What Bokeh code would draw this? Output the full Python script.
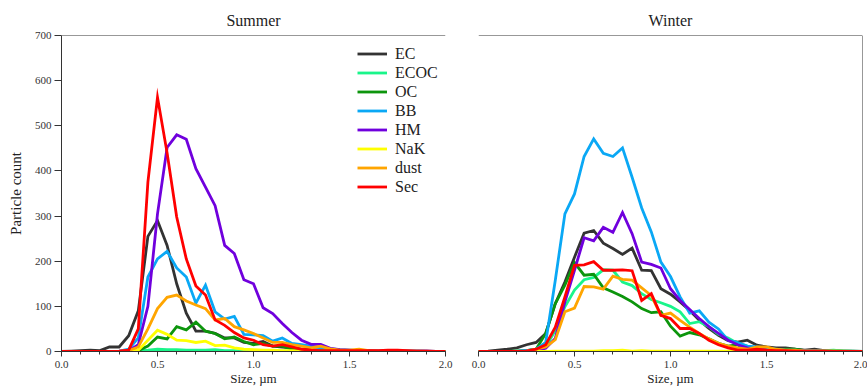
from bokeh.plotting import figure
from bokeh.layouts import row
from bokeh.models import (Legend, LegendItem, Span, SingleIntervalTicker,
                          PrintfTickFormatter, Range1d)
from bokeh.embed import file_html
from bokeh.resources import INLINE

# Particle size bins (µm)
sizes = [0.00, 0.05, 0.10, 0.15, 0.20, 0.25, 0.30, 0.35, 0.40, 0.45,
         0.50, 0.55, 0.60, 0.65, 0.70, 0.75, 0.80, 0.85, 0.90, 0.95,
         1.00, 1.05, 1.10, 1.15, 1.20, 1.25, 1.30, 1.35, 1.40, 1.45,
         1.50, 1.55, 1.60, 1.65, 1.70, 1.75, 1.80, 1.85, 1.90, 1.95, 2.00]

classes = ["EC", "ECOC", "OC", "BB", "HM", "NaK", "dust", "Sec"]
colors = ["#333333", "#19f58a", "#0c950c", "#0aa8f5", "#7000dd",
          "#ffff00", "#ffa500", "#ff0000"]

# Summer particle counts per class
summer_ec = [0, 1, 2, 3, 2, 10, 10, 35, 90, 255,
             290, 235, 150, 85, 45, 45, 40, 30, 30, 20,
             18, 22, 12, 10, 8, 5, 4, 3, 3, 2,
             2, 2, 1, 1, 1, 1, 1, 1, 1, 0, 0]
summer_ecoc = [0, 0, 0, 0, 0, 0, 0, 1, 2, 3,
               5, 4, 4, 3, 3, 3, 4, 2, 2, 1,
               1, 1, 1, 1, 1, 1, 1, 1, 0, 0,
               0, 0, 0, 0, 0, 0, 0, 0, 0, 0, 0]
summer_oc = [0, 0, 0, 0, 0, 0, 0, 0, 2, 12,
             32, 28, 55, 48, 65, 45, 40, 28, 32, 22,
             15, 18, 12, 12, 5, 3, 2, 2, 1, 1,
             1, 1, 1, 0, 0, 0, 0, 0, 0, 0, 0]
summer_bb = [0, 0, 0, 0, 0, 0, 1, 5, 30, 165,
             205, 222, 185, 165, 107, 147, 88, 72, 78, 38,
             37, 35, 23, 30, 18, 15, 12, 8, 6, 4,
             3, 2, 2, 1, 1, 1, 1, 1, 0, 0, 0]
summer_hm = [0, 0, 0, 0, 0, 0, 0, 2, 15, 100,
             305, 452, 480, 470, 405, 364, 323, 235, 217, 159,
             150, 97, 84, 62, 42, 25, 16, 16, 7, 4,
             3, 2, 2, 1, 1, 1, 1, 1, 1, 0, 0]
summer_nak = [0, 0, 0, 0, 0, 0, 0, 0, 3, 25,
              47, 38, 25, 24, 20, 23, 13, 14, 8, 5,
              4, 3, 3, 2, 2, 1, 1, 1, 1, 0,
              0, 0, 0, 0, 0, 0, 0, 0, 0, 0, 0]
summer_dust = [0, 0, 0, 0, 0, 0, 0, 2, 10, 50,
               95, 120, 125, 112, 103, 95, 70, 73, 55, 48,
               40, 30, 20, 20, 15, 12, 8, 12, 6, 3,
               3, 5, 2, 1, 1, 1, 1, 1, 0, 0, 0]
summer_sec = [0, 0, 0, 0, 0, 0, 1, 3, 50, 375,
              563, 440, 298, 205, 145, 125, 70, 58, 42, 30,
              25, 15, 12, 15, 10, 5, 3, 2, 2, 2,
              2, 2, 2, 2, 3, 3, 2, 1, 1, 0, 0]

# Winter particle counts per class
winter_ec = [0, 1, 3, 5, 8, 15, 20, 40, 106, 154,
             209, 262, 268, 240, 228, 215, 229, 180, 179, 139,
             127, 110, 91, 69, 51, 36, 24, 21, 25, 14,
             10, 8, 8, 5, 3, 5, 2, 2, 1, 1, 0]
winter_ecoc = [0, 0, 0, 0, 1, 2, 5, 10, 47, 99,
               136, 159, 164, 181, 180, 154, 146, 128, 115, 108,
               100, 88, 62, 66, 55, 38, 30, 18, 12, 8,
               5, 3, 3, 2, 2, 2, 2, 3, 1, 1, 0]
winter_oc = [0, 0, 0, 0, 1, 2, 5, 40, 106, 147,
             197, 169, 171, 141, 132, 122, 110, 95, 86, 88,
             56, 34, 42, 37, 28, 18, 12, 15, 3, 5,
             5, 3, 5, 5, 2, 2, 1, 1, 1, 0, 0]
winter_bb = [0, 0, 0, 0, 0, 2, 5, 20, 158, 305,
             349, 432, 471, 439, 432, 451, 386, 318, 265, 198,
             166, 121, 85, 90, 65, 50, 25, 20, 12, 10,
             8, 5, 3, 3, 2, 2, 1, 1, 1, 0, 0]
winter_hm = [0, 0, 0, 0, 0, 1, 2, 7, 29, 110,
             180, 252, 245, 275, 264, 308, 261, 198, 193, 185,
             139, 113, 93, 73, 55, 40, 25, 15, 8, 5,
             3, 2, 2, 1, 1, 1, 1, 0, 0, 0, 0]
winter_nak = [0, 0, 0, 0, 0, 0, 0, 0, 1, 1,
              1, 1, 1, 2, 2, 3, 1, 2, 1, 1,
              1, 1, 1, 1, 1, 1, 1, 1, 1, 1,
              1, 1, 1, 1, 1, 1, 1, 1, 1, 0, 0]
winter_dust = [0, 0, 0, 0, 0, 1, 5, 10, 26, 88,
               96, 144, 143, 138, 167, 160, 158, 141, 124, 80,
               85, 69, 54, 40, 28, 18, 12, 8, 5, 10,
               10, 5, 3, 3, 1, 1, 1, 1, 0, 0, 0]
winter_sec = [0, 0, 0, 0, 0, 1, 5, 15, 54, 121,
              191, 192, 199, 180, 180, 181, 179, 113, 128, 80,
              73, 51, 51, 40, 25, 15, 8, 3, 3, 5,
              3, 2, 2, 1, 1, 1, 1, 0, 0, 0, 0]

summer = [summer_ec, summer_ecoc, summer_oc, summer_bb, summer_hm,
          summer_nak, summer_dust, summer_sec]
winter = [winter_ec, winter_ecoc, winter_oc, winter_bb, winter_hm,
          winter_nak, winter_dust, winter_sec]

FONT = "Liberation Serif"
TEXT = "#222222"
TICK_TEXT = "#333333"
AXIS = "#333333"


def style_panel(p, title, title_offset):
    p.title.text = title
    p.title.align = "center"
    p.title.offset = title_offset
    p.title.standoff = 13
    p.title.text_font = FONT
    p.title.text_font_style = "normal"
    p.title.text_font_size = "16px"
    p.title.text_color = TEXT
    p.outline_line_color = None
    p.grid.visible = False
    p.background_fill_color = "white"
    p.border_fill_color = "white"

    xa = p.xaxis[0]
    xa.ticker = SingleIntervalTicker(interval=0.5, num_minor_ticks=5)
    xa.formatter = PrintfTickFormatter(format="%.1f")
    xa.axis_label = "Size, µm"
    xa.axis_label_text_font = FONT
    xa.axis_label_text_font_style = "normal"
    xa.axis_label_text_font_size = "13px"
    xa.axis_label_text_color = TEXT
    xa.axis_label_standoff = 0
    xa.major_label_text_font = FONT
    xa.major_label_text_font_size = "11px"
    xa.major_label_text_color = TICK_TEXT
    xa.major_label_standoff = 4
    xa.major_tick_in = 0
    xa.major_tick_out = 5
    xa.minor_tick_in = 0
    xa.minor_tick_out = 3
    xa.axis_line_color = AXIS
    xa.major_tick_line_color = AXIS
    xa.minor_tick_line_color = AXIS

    # top edge of the frame
    p.add_layout(Span(location=700, dimension="width",
                      line_color=AXIS, line_width=1))


def draw_lines(p, series):
    renderers = []
    for vals, col in zip(series, colors):
        r = p.line(sizes, vals, line_color=col, line_width=2.8,
                   line_join="miter")
        renderers.append(r)
    return renderers


# Summer panel
p1 = figure(width=461, height=388, output_backend="svg", toolbar_location=None,
            x_range=Range1d(0, 2), y_range=Range1d(0, 700),
            min_border_left=61, min_border_right=16,
            min_border_top=35, min_border_bottom=37)
style_panel(p1, "Summer", -7)
ya = p1.yaxis[0]
ya.ticker = SingleIntervalTicker(interval=100, num_minor_ticks=0)
ya.axis_label = "Particle count"
ya.axis_label_text_font = FONT
ya.axis_label_text_font_style = "normal"
ya.axis_label_text_font_size = "15px"
ya.axis_label_text_color = TEXT
ya.axis_label_standoff = 8
ya.major_label_text_font = FONT
ya.major_label_text_font_size = "11px"
ya.major_label_text_color = TICK_TEXT
ya.major_label_standoff = 3
ya.major_tick_in = 0
ya.major_tick_out = 7
ya.axis_line_color = AXIS
ya.major_tick_line_color = AXIS

r1 = draw_lines(p1, summer)

legend = Legend(
    items=[LegendItem(label=name, renderers=[r]) for name, r in zip(classes, r1)],
    location=(296, 155),
    orientation="vertical",
    border_line_color=None,
    background_fill_alpha=0,
    padding=0, margin=0, spacing=0,
    glyph_width=30, glyph_height=19, label_height=19,
    label_standoff=8,
    label_text_font=FONT,
    label_text_font_size="16px",
    label_text_color=TEXT,
)
p1.add_layout(legend)

# Winter panel
p2 = figure(width=406, height=388, output_backend="svg", toolbar_location=None,
            x_range=Range1d(0, 2), y_range=Range1d(0, 700),
            min_border_left=17, min_border_right=5,
            min_border_top=35, min_border_bottom=37)
style_panel(p2, "Winter", -12)
p2.yaxis.visible = False
p2.add_layout(Span(location=2.0, dimension="height",
                   line_color=AXIS, line_width=1))
draw_lines(p2, winter)

layout = row(p1, p2)
open("out.html", "w").write(file_html(layout, INLINE))
